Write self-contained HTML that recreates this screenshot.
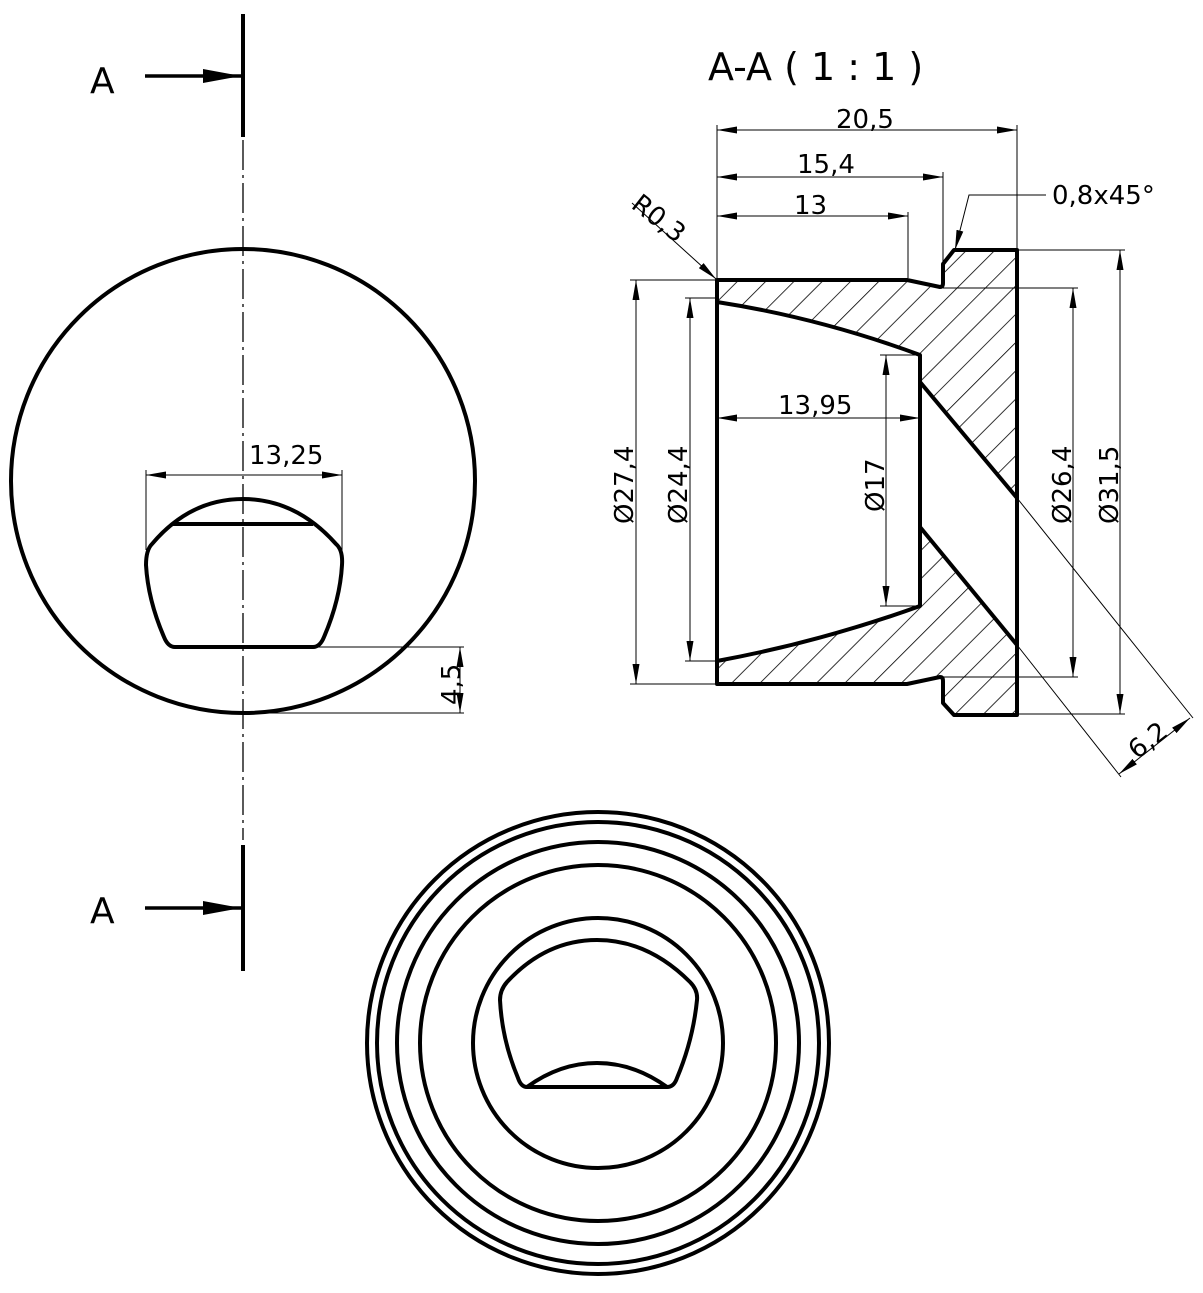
<!DOCTYPE html>
<html><head><meta charset="utf-8"><style>
html,body{margin:0;padding:0;background:#fff}
svg{display:block}
text{font-family:"DejaVu Sans","Liberation Sans",sans-serif;fill:#000}
</style></head><body>
<svg width="1203" height="1293" viewBox="0 0 1203 1293" xmlns="http://www.w3.org/2000/svg">
<defs>
<marker id="ar" viewBox="0 0 20 7" refX="20" refY="3.5" markerWidth="20" markerHeight="7" markerUnits="userSpaceOnUse" orient="auto-start-reverse">
<path d="M0,0 L20,3.5 L0,7 z" fill="#000"/></marker>
<marker id="ab" viewBox="0 0 38 14" refX="38" refY="7" markerWidth="38" markerHeight="14" markerUnits="userSpaceOnUse" orient="auto">
<path d="M0,0 L38,7 L0,14 z" fill="#000"/></marker>
<pattern id="h" patternUnits="userSpaceOnUse" width="20" height="20" patternTransform="rotate(45)">
<line x1="0" y1="0" x2="0" y2="20" stroke="#000" stroke-width="1.6"/></pattern>
</defs>

<!-- Left view -->
<g fill="none" stroke="#000">
<line x1="243" y1="140" x2="243" y2="840" stroke-width="1.3" stroke-dasharray="30,5,3,5"/>
<line x1="243" y1="14" x2="243" y2="137" stroke-width="4"/>
<line x1="243" y1="845" x2="243" y2="971" stroke-width="4"/>
<line x1="145" y1="76" x2="241" y2="76" stroke-width="3.5" marker-end="url(#ab)"/>
<line x1="145" y1="908" x2="241" y2="908" stroke-width="3.5" marker-end="url(#ab)"/>
<circle cx="243" cy="481" r="232" stroke-width="4"/>
<path d="M175,647 L313,647 Q320,647 324,637 Q340,600 342,565 Q343,550 336,544 Q296,499 243,499 Q190,499 152,544 Q146,550 146,565 Q148,600 164,637 Q168,647 175,647 Z" stroke-width="4"/>
<line x1="172" y1="524" x2="313" y2="524" stroke-width="4"/>
<line x1="146" y1="470" x2="146" y2="550" stroke-width="1"/>
<line x1="342" y1="470" x2="342" y2="555" stroke-width="1"/>
<line x1="146" y1="475" x2="342" y2="475" stroke-width="1" marker-start="url(#ar)" marker-end="url(#ar)"/>
<line x1="313" y1="647" x2="464" y2="647" stroke-width="1"/>
<line x1="243" y1="713" x2="464" y2="713" stroke-width="1"/>
<line x1="460" y1="647" x2="460" y2="713" stroke-width="1"/>
<line x1="460" y1="647" x2="460" y2="680" stroke-width="1" marker-start="url(#ar)"/>
<line x1="460" y1="680" x2="460" y2="713" stroke-width="1" marker-end="url(#ar)"/>
</g>
<text x="90" y="93" font-size="36">A</text>
<text x="90" y="923" font-size="36">A</text>
<text x="249" y="464" font-size="26">13,25</text>
<text transform="translate(460,705) rotate(-90)" font-size="26">4,5</text>

<!-- Section view -->
<text x="708" y="80" font-size="38">A-A ( 1 : 1 )</text>
<path d="M717,280 L907,280 L940,287 Q943,287 943,283 L943,264 L954,250 L1017,250 L1017,498 L920,382 L920,355 Q820,318 717,302 Z" fill="url(#h)"/>
<path d="M717,684 L907,684 L940,677 Q943,677 943,681 L943,703 L954,715 L1017,715 L1017,645 L920,527 L920,606 Q820,642 717,661 Z" fill="url(#h)"/>
<g fill="none" stroke="#000" stroke-width="4" stroke-linejoin="round">
<path d="M717,280 L907,280 L940,287 Q943,287 943,283 L943,264 L954,250 L1017,250 L1017,715 L954,715 L943,703 L943,681 Q943,677 940,677 L907,684 L717,684 Z"/>
<path d="M717,302 Q820,318 920,355 L920,606 Q820,642 717,661"/>
<line x1="920" y1="382" x2="1017" y2="498"/>
<line x1="920" y1="527" x2="1017" y2="645"/>
</g>
<g fill="none" stroke="#000" stroke-width="1">
<line x1="717" y1="125" x2="717" y2="278"/>
<line x1="1017" y1="125" x2="1017" y2="248"/>
<line x1="943" y1="172" x2="943" y2="262"/>
<line x1="908" y1="212" x2="908" y2="278"/>
<line x1="717" y1="130" x2="1017" y2="130" marker-start="url(#ar)" marker-end="url(#ar)"/>
<line x1="717" y1="177" x2="943" y2="177" marker-start="url(#ar)" marker-end="url(#ar)"/>
<line x1="717" y1="216" x2="908" y2="216" marker-start="url(#ar)" marker-end="url(#ar)"/>
<polyline points="1046,195 969,195 955,250" marker-end="url(#ar)"/>
<line x1="632" y1="203" x2="716" y2="279" marker-end="url(#ar)"/>
<line x1="630" y1="280" x2="717" y2="280"/>
<line x1="630" y1="684" x2="717" y2="684"/>
<line x1="636" y1="280" x2="636" y2="684" marker-start="url(#ar)" marker-end="url(#ar)"/>
<line x1="685" y1="298" x2="717" y2="298"/>
<line x1="685" y1="661" x2="717" y2="661"/>
<line x1="690" y1="298" x2="690" y2="661" marker-start="url(#ar)" marker-end="url(#ar)"/>
<line x1="880" y1="355" x2="920" y2="355"/>
<line x1="880" y1="606" x2="920" y2="606"/>
<line x1="886" y1="355" x2="886" y2="606" marker-start="url(#ar)" marker-end="url(#ar)"/>
<line x1="717" y1="418" x2="920" y2="418" marker-start="url(#ar)" marker-end="url(#ar)"/>
<line x1="943" y1="288" x2="1078" y2="288"/>
<line x1="943" y1="677" x2="1078" y2="677"/>
<line x1="1073" y1="288" x2="1073" y2="677" marker-start="url(#ar)" marker-end="url(#ar)"/>
<line x1="1017" y1="250" x2="1125" y2="250"/>
<line x1="1017" y1="714" x2="1125" y2="714"/>
<line x1="1120" y1="250" x2="1120" y2="714" marker-start="url(#ar)" marker-end="url(#ar)"/>
<line x1="1017" y1="498" x2="1193" y2="718"/>
<line x1="1017" y1="645" x2="1121" y2="777"/>
<line x1="1119" y1="774" x2="1190" y2="718" marker-start="url(#ar)" marker-end="url(#ar)"/>
</g>
<text x="836" y="128" font-size="26">20,5</text>
<text x="797" y="173" font-size="26">15,4</text>
<text x="794" y="214" font-size="26">13</text>
<text x="1052" y="204" font-size="26">0,8x45°</text>
<text transform="translate(630,207) rotate(38)" font-size="26">R0,3</text>
<text x="778" y="414" font-size="26">13,95</text>
<text transform="translate(633,524) rotate(-90)" font-size="26">Ø27,4</text>
<text transform="translate(687,524) rotate(-90)" font-size="26">Ø24,4</text>
<text transform="translate(884,512) rotate(-90)" font-size="26">Ø17</text>
<text transform="translate(1071,524) rotate(-90)" font-size="26">Ø26,4</text>
<text transform="translate(1118,524) rotate(-90)" font-size="26">Ø31,5</text>
<text transform="translate(1137,760) rotate(-38)" font-size="26">6,2</text>

<!-- Bottom view -->
<g fill="none" stroke="#000" stroke-width="4">
<circle cx="598" cy="1043" r="231"/>
<circle cx="598" cy="1043" r="221"/>
<circle cx="598" cy="1043" r="201"/>
<circle cx="598" cy="1043" r="178"/>
<circle cx="598" cy="1043" r="125"/>
<path d="M527,1087 L667,1087 Q674,1087 677,1078 Q693,1040 697,1000 Q698,990 690,982 Q648,940 597,940 Q546,940 507,982 Q500,990 500,1000 Q502,1040 518,1078 Q521,1087 527,1087 Z"/>
<path d="M527,1087 Q560,1063 597,1063 Q634,1063 667,1087"/>
</g>
</svg>
</body></html>
